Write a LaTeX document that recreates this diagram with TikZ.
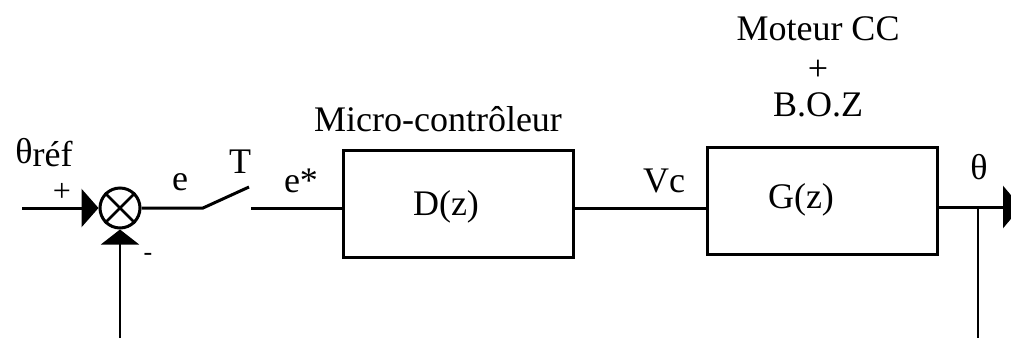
\documentclass[tikz,border=0pt]{standalone}
\usepackage{fontspec}
\setmainfont{Liberation Serif}
\usetikzlibrary{arrows.meta}
\begin{document}
\begin{tikzpicture}[x=1pt,y=-1pt,
  every node/.style={font=\fontsize{36}{40}\selectfont, inner sep=0pt},
  wire/.style={line width=3pt},
  thin wire/.style={line width=2.2pt},
  block/.style={draw, line width=3pt, minimum width=230pt, minimum height=107pt},
  sumpt/.style={draw, circle, line width=3pt, minimum size=40pt},
  tipin/.style={-{Triangle[length=17pt,width=38pt]}},
  tipup/.style={-{Triangle[length=15pt,width=38pt]}}]
\useasboundingbox (0,0) rectangle (1011,338);

% summing junction
\node[sumpt] (s) at (120,208) {};
\draw[line width=2.6pt] (s.45) -- (s.225) (s.135) -- (s.-45);

% blocks
\node[block] (D) at (458,204) {};
\node[block] (G) at (822.5,201) {};
\node (dz) at (446,207) {D(z)};
\node (gz) at (801,200) {G(z)};

% switch contacts and free ends
\coordinate (sw1) at (203,208);
\coordinate (sw2) at (249,187);
\coordinate (sw3) at (251,208);
\coordinate (in) at (22,208);
\coordinate (fbl) at (120,338);
\coordinate (out) at (1021,207);
\coordinate (tap) at (978,207);
\coordinate (fbr) at (978,338);

% connectors
\draw[wire, tipin] (in) -- (s.west);
\draw[thin wire, tipup] (fbl) -- (s.south);
\draw[wire] (s.east) -- (sw1) -- (sw2);
\draw[wire] (sw3) -- (sw3 -| D.west);
\draw[wire] (D.east |- 0,208) -- (G.west |- 0,208);
\draw[wire, -{Triangle[length=18pt,width=42pt]}] (G.east |- tap) -- (out);
\draw[thin wire] (tap) -- (fbr);

% labels
\node (ref) at (44,153) {θ\raisebox{-3pt}{réf}};
\node[font=\fontsize{32}{36}\selectfont] (plus) at (62,192) {+};
\node[font=\fontsize{26}{30}\selectfont] (minus) at (148,257) {-};
\node (e) at (180,182) {e};
\node (T) at (240,162) {T};
\node (es) at (301,181) {e*};
\node (mc) at (438,119) {Micro-contrôleur};
\node (vc) at (664,181) {Vc};
\node (mot) at (818,29) {Moteur CC};
\node (mp) at (818,70) {+};
\node (boz) at (818,105) {B.O.Z};
\node (th) at (979,167) {θ};
\end{tikzpicture}
\end{document}
